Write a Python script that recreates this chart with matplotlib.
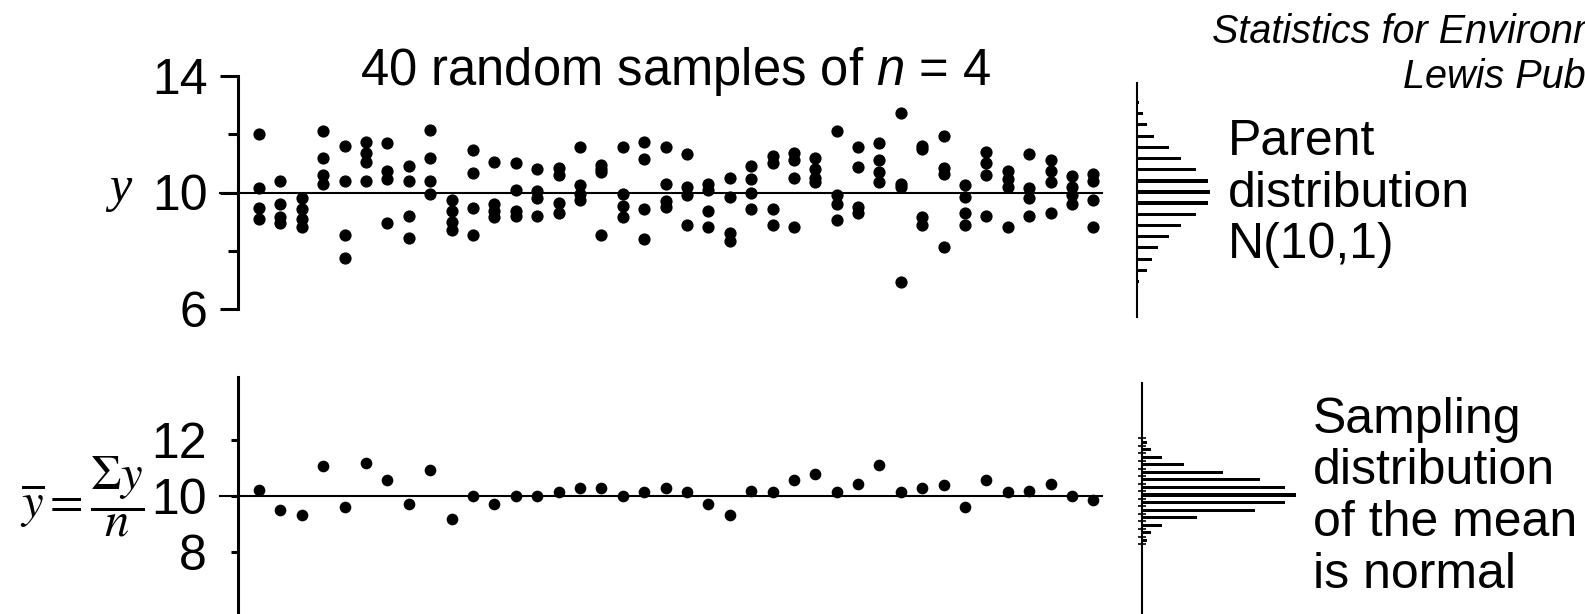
import numpy as np
import matplotlib.pyplot as plt

plt.rcParams['font.family'] = 'Liberation Sans'
plt.rcParams['mathtext.fontset'] = 'custom'
plt.rcParams['mathtext.rm'] = 'Liberation Sans'
plt.rcParams['mathtext.it'] = 'Liberation Sans:italic'

W, H = 1585, 614

# 40 samples of n = 4 drawn from N(10, 1)
samples = [
    [12.0, 10.14, 9.47, 9.08], [10.4, 9.6, 9.15, 8.95], [9.8, 9.45, 9.1, 8.8],
    [12.1, 11.2, 10.6, 10.3], [11.59, 10.38, 8.55, 7.76], [11.75, 11.35, 11.05, 10.38],
    [11.7, 10.75, 10.45, 8.95], [10.9, 10.38, 9.2, 8.44], [12.14, 11.2, 10.4, 9.95],
    [9.75, 9.35, 9.0, 8.7], [11.46, 10.67, 9.46, 8.55], [11.06, 9.6, 9.35, 9.15],
    [11.0, 10.1, 9.35, 9.2], [10.8, 10.05, 9.8, 9.2], [10.85, 10.6, 9.65, 9.3],
    [11.56, 10.25, 9.95, 9.75], [10.95, 10.8, 10.7, 8.55], [11.56, 9.95, 9.55, 9.15],
    [11.73, 11.15, 9.45, 8.41], [11.56, 10.3, 9.7, 9.5], [11.32, 10.2, 9.9, 8.9],
    [10.3, 10.1, 9.35, 8.8], [10.5, 9.85, 8.6, 8.35], [10.9, 10.45, 10.0, 9.45],
    [11.25, 11.0, 9.45, 8.88], [11.35, 11.1, 10.5, 8.8], [11.2, 10.8, 10.5, 10.35],
    [12.1, 9.9, 9.6, 9.05], [11.56, 10.88, 9.5, 9.3], [11.7, 11.1, 10.7, 10.35],
    [12.74, 10.3, 10.2, 6.94], [11.6, 11.5, 9.15, 8.9], [11.94, 10.85, 10.65, 8.14],
    [10.25, 9.85, 9.3, 8.9], [11.4, 11.0, 10.6, 9.18], [10.75, 10.45, 10.2, 8.8],
    [11.32, 10.15, 9.8, 9.18], [11.1, 10.75, 10.35, 9.3], [10.55, 10.2, 9.9, 9.6],
    [10.65, 10.4, 9.75, 8.8],
]

sample_means = [
    10.19, 9.48, 9.30, 11.05, 9.60, 11.17, 10.55, 9.71, 10.93, 9.18,
    10.00, 9.71, 10.00, 10.00, 10.13, 10.27, 10.27, 10.00, 10.14, 10.27,
    10.13, 9.71, 9.32, 10.15, 10.13, 10.55, 10.79, 10.13, 10.40, 11.08,
    10.13, 10.27, 10.39, 9.60, 10.55, 10.13, 10.15, 10.40, 10.00, 9.86,
]

# histogram of the parent population (bar lengths, arbitrary units)
parent_mid = [13.08, 12.69, 12.31, 11.92, 11.54, 11.15, 10.77, 10.38, 10.0,
              9.62, 9.23, 8.85, 8.46, 8.08, 7.69, 7.31, 6.92]
parent_freq = [2, 6, 10, 17, 32, 44, 59, 71, 73, 71, 59, 44, 32, 21, 15, 10, 2]

# histogram of the sample means
mean_mid = [11.89, 11.62, 11.35, 11.08, 10.81, 10.54, 10.27, 10.0,
            9.73, 9.46, 9.19, 8.92, 8.65, 8.38]
mean_freq = [5, 9, 20, 42, 81, 118, 143, 154, 143, 113, 55, 20, 9, 5]


def box(x0, y0, x1, y1):
    # pixel box (top-left origin) -> figure rect
    return [x0 / W, 1 - y1 / H, (x1 - x0) / W, (y1 - y0) / H]


fig = plt.figure(figsize=(W / 100, H / 100), dpi=100)

ax_top = fig.add_axes(box(237.6, 76, 1102, 309))
ax_bot = fig.add_axes(box(237.6, 376.7, 1102, 614))
ax_ph = fig.add_axes(box(1137, 83, 1237, 317))
ax_mh = fig.add_axes(box(1141.7, 383, 1341.7, 614))

spine_w = 2.2
for ax in (ax_top, ax_bot):
    for s in ('top', 'right', 'bottom'):
        ax.spines[s].set_visible(False)
    ax.spines['left'].set_linewidth(spine_w)
    ax.set_xticks([])
    ax.set_xlim(0, 40.4)
    ax.plot([-0.8, 40.4], [10, 10], color='k', lw=1.5, clip_on=False, zorder=1)
    ax.tick_params(axis='y', labelsize=36, width=spine_w, direction='out')

# individual observations
xs = np.repeat(np.arange(1, len(samples) + 1), 4)
ys = np.concatenate(samples)
ax_top.plot(xs, ys, 'o', color='k', ms=8.8, mew=0, clip_on=False, zorder=3)
ax_top.set_ylim(6, 14)
ax_top.set_yticks([6, 10, 14])
ax_top.set_yticks([8, 12], minor=True)
ax_top.tick_params(axis='y', which='major', length=13, pad=8.6)
ax_top.tick_params(axis='y', which='minor', length=7, width=spine_w)

# sample means
xm = np.arange(1, len(sample_means) + 1)
ax_bot.plot(xm, sample_means, 'o', color='k', ms=8.4, mew=0, clip_on=False, zorder=3)
ax_bot.set_ylim(5.77, 14.25)
ax_bot.set_yticks([8, 10, 12])
ax_bot.tick_params(axis='y', which='major', length=5, pad=17)

# side histograms
for ax in (ax_ph, ax_mh):
    for s in ('top', 'right', 'bottom'):
        ax.spines[s].set_visible(False)
    ax.spines['left'].set_linewidth(1.5)
    ax.set_xticks([])
    ax.patch.set_visible(False)

ax_ph.barh(parent_mid, parent_freq, height=0.11, color='k')
ax_ph.set_ylim(5.70, 13.75)
ax_ph.set_xlim(0, 100)
ax_ph.set_yticks([])

ax_mh.barh(mean_mid, mean_freq, height=0.11, color='k')
ax_mh.set_ylim(5.75, 14.0)
ax_mh.set_xlim(0, 200)
mid = np.array(mean_mid)
edges = np.concatenate([[mid[0] + 0.135], (mid[:-1] + mid[1:]) / 2, [mid[-1] - 0.135]])
ax_mh.set_yticks(edges)
ax_mh.set_yticklabels([])
ax_mh.tick_params(axis='y', direction='inout', length=6, width=1.2)

# labels and annotations
fig.text(360 / W, 1 - 85 / H, '40 random samples of $n$ = 4', fontsize=36.5,
         ha='left', va='baseline')
fig.text(120 / W, 1 - 201 / H, 'y', family='Liberation Serif', style='italic',
         fontsize=36, ha='center', va='baseline')
fig.text(20 / W, 1 - 497 / H, r'$\overline{y}=\dfrac{\Sigma y}{n}$',
         math_fontfamily='stix', fontsize=35, ha='left', va='center')

# multi-line blocks are anchored on the baseline of their last line
fig.text(1228 / W, 1 - 258 / H, 'Parent\ndistribution\nN(10,1)', fontsize=36,
         linespacing=1.15, ha='left', va='baseline')
fig.text(1313 / W, 1 - 588 / H, 'Sampling\ndistribution\nof the mean\nis normal',
         fontsize=36, linespacing=1.16, ha='left', va='baseline')

fig.text(1212 / W, 1 - 43 / H, 'Statistics for Environmental Engineers',
         style='italic', fontsize=28.5, ha='left', va='baseline')
fig.text(1403 / W, 1 - 88 / H, 'Lewis Publishers',
         style='italic', fontsize=28.5, ha='left', va='baseline')

fig.savefig('out.png', dpi=100)
